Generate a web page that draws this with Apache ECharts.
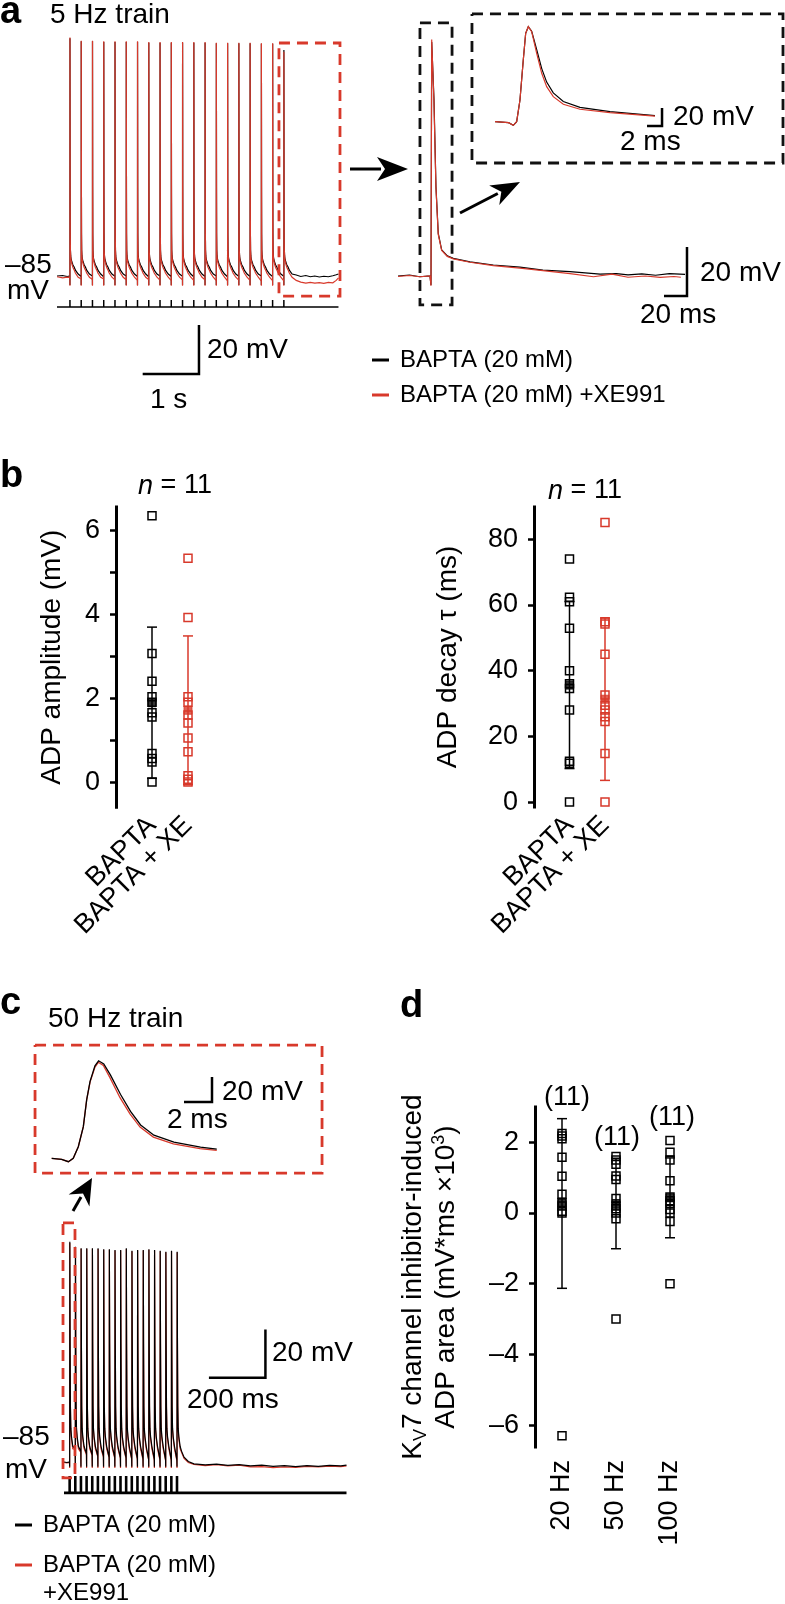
<!DOCTYPE html>
<html><head><meta charset="utf-8">
<script src="https://cdn.jsdelivr.net/npm/echarts@6/dist/echarts.min.js"></script>
<style>html,body{margin:0;padding:0;background:#fff}#c{width:785px;height:1604px}</style>
</head><body><div id="c"></div>
<script>
const FONT = '"Liberation Sans", Arial, Helvetica, sans-serif';
const RED = '#d8392b';
const BLK = '#000';

// ---------- Panel a : 5 Hz train (time in ms, membrane potential in mV) ----------
const spikeTimesA = [230,430,630,830,1030,1230,1430,1630,1830,2030,2230,2430,2630,2830,3030,3230,3430,3630,3830,4030];
const peaksA_black = [12,10.8,10.8,10.5,10.5,10.5,10.5,10.2,10.2,10.2,10.2,10.2,10.2,10,10,10,10,9.8,9.8,7.2];
const peaksA_red   = [12.3,11,11,10.8,10.8,10.8,10.8,10.5,10.5,10.5,10.5,10.5,10.5,10.2,10.2,10.2,10.2,10,10,6.5];
const baseA_black  = [-85,-85.2,-85,-85.3,-85.1,-85,-85.2,-85.3,-85,-85.2,-85.1,-85.3,-85.2,-85,-85.3,-85.1,-85.2,-85,-85.2,-85.1];
const baseA_red    = [-85.6,-86.2,-86.4,-86.2,-86.6,-86.5,-86.8,-86.4,-86.7,-86.9,-86.6,-86.8,-86.5,-86.9,-87,-86.7,-86.8,-87.1,-86.9,-87];
// action potential waveform read from the expanded last spike (ms after stimulus, mV); null = peak
const apDtA        = [0,0.6,2,3.7,5.7,8.7,13.6,18.8,33.3,53.6,76.7,96.7,120.3,146.4,175];
const apVA_black   = [-88.7,null,-13.2,-48.5,-67.6,-74.4,-76.8,-77.8,-79.2,-80.5,-81.4,-82.6,-83.2,-84.2,-84.4];
const apVA_red     = [-89,null,-13,-49,-68,-74.6,-77.2,-78.4,-80,-81.5,-82.6,-83.8,-84.6,-85.5,-86];
const startA_black = [[0,-85],[100,-84.8],[180,-85.2]];
const startA_red   = [[0,-85.3],[100,-85.8],[180,-85.5]];
const tailA_black  = [[4250,-84.6],[4330,-85.2],[4420,-84.8],[4500,-85.3],[4580,-85.0],[4660,-85.4],[4740,-85.1],[4820,-85.3],[4900,-84.9],[4960,-84.5],[5000,-84.2]];
const tailA_red    = [[4250,-86.8],[4330,-87.5],[4420,-87.9],[4500,-87.6],[4580,-87.9],[4660,-87.7],[4740,-88.0],[4820,-87.6],[4900,-87.8],[4960,-86.8],[5000,-85.8]];
// expanded last spike (ms, mV)
const zoomA_black = [[0,-85],[10,-84.6],[19,-85.3],[27.8,-85],[28.7,-88.7],[29.3,10.5],[31.3,-13],[33,-48.5],[35,-67.6],[38,-74.4],[42.9,-76.8],[48.1,-77.8],[62.6,-79.2],[82.9,-80.5],[106,-81.4],[126,-82.6],[149.6,-83.2],[175.7,-84.2],[190,-84.0],[200,-84.5],[212,-84.1],[224,-84.7],[236,-84.0],[249.6,-84.3]];
const zoomA_red   = [[0,-85.2],[10,-84.8],[19,-85.3],[27.8,-85],[28.7,-89],[29.3,11.5],[31.2,-13],[33,-49],[35,-68],[38,-74.6],[42.9,-77],[48.1,-78],[62.6,-79.4],[82.9,-80.8],[106,-81.8],[126,-82.8],[149.6,-84],[170,-85.3],[186,-84.2],[200,-85.5],[215,-85.0],[228,-85.6],[240,-85.2],[246,-85.5]];
// AP waveform inset (ms, mV)
const insetA_black = [[0,-85],[1.8,-86.1],[2.44,-89],[2.89,-85],[3.33,-60.9],[3.77,-16.4],[4.09,13.2],[4.44,20.6],[4.89,15.5],[5.56,-5],[6.23,-26],[6.89,-41],[7.77,-53],[9.11,-62.5],[11.33,-69],[15.33,-73.8],[21.33,-78.2]];
const insetA_red   = [[0,-85],[1.8,-86.1],[2.44,-89],[2.89,-85],[3.33,-60.9],[3.77,-16.4],[4.09,13.2],[4.44,20.6],[4.89,15],[5.56,-9],[6.23,-31.2],[6.89,-46.1],[7.77,-57.2],[9.11,-65.7],[11.33,-71.2],[15.33,-75],[21.33,-78.7]];

// ---------- Panel b ----------
const bCats = [' ', 'BAPTA', 'BAPTA + XE', '  '];
const bAmpTicks = [0,1,2,3,4,5,6];
const bAmpLabels = [0,2,4,6];
const bAmp_BAPTA = [6.34,3.06,2.4,2.03,1.9,1.65,1.55,0.68,0.56,0.48,0.0];
const bAmp_XE    = [5.33,3.92,2.03,1.9,1.6,1.41,1.05,0.72,0.15,0.07,0.0];
const bAmpMean = [1.89, 1.71];
const bAmpErr  = [1.8, 1.77];
const bDecTicks = [0,20,40,60,80];
const bDec_BAPTA = [74,62.3,61,52.9,40,36,34.6,28,12.4,11.8,0];
const bDec_XE    = [85.1,54.9,54.2,45,32.6,29.5,28,26,24.5,14.8,0];
const bDecMean = [35.6, 31.3];
const bDecErr  = [25.4, 24.7];

// ---------- Panel c : 50 Hz train ----------
const spikeTimesC = [20,40,60,80,100,120,140,160,180,200,220,240,260,280,300,320,340,360,380,400];
const peaksC_black = [6.1,4.1,3.4,3.4,3.4,3.4,3.0,3.0,2.7,2.7,3.4,2.4,2.7,2.7,3.0,2.7,2.4,2.0,2.4,2.0];
const peaksC_red   = [5.6,3.8,3.2,3.2,3.2,3.1,2.8,2.8,2.5,2.5,3.1,2.2,2.5,2.5,2.8,2.5,2.2,1.8,2.2,1.8];
const baseC_black  = [-85,-79.5,-80.5,-81.5,-82,-82.5,-82.5,-83,-83,-83.2,-83.2,-83.5,-83.5,-83.5,-83.8,-83.8,-83.8,-84,-84,-84];
const baseC_red    = [-85.2,-79.8,-81,-82,-82.3,-82.8,-83,-83.2,-83.4,-83.5,-83.5,-83.8,-83.8,-84,-84,-84.2,-84.2,-84.3,-84.3,-84.5];
const apDtC        = [0,0.6,1.6,2.8,4.2,6.5,11];
const apVC_black   = [-87,null,-35,-62,-71,-74.5,-78.5];
const apVC_red     = [-87.5,null,-36,-63,-72,-75.5,-79.5];
const startC_black = [[0,-85],[10,-85.2],[17,-84.9]];
const startC_red   = [[0,-85.2],[10,-85.4],[17,-85.1]];
const tailC_black  = [[416,-80.5],[425,-83],[440,-84.8],[460,-85.8],[500,-86.2],[540,-85.9],[580,-86.4],[620,-86.1],[660,-86.6],[700,-86.3],[740,-86.8],[780,-86.5],[820,-86.9],[860,-86.5],[900,-86.8],[940,-86.4],[980,-86.6],[1000,-86.3]];
const tailC_red    = [[416,-81],[425,-83.5],[440,-85.2],[460,-86],[500,-86.5],[540,-86.1],[580,-86.6],[620,-86.3],[660,-87],[700,-86.9],[740,-87.3],[780,-87],[820,-87.2],[860,-86.8],[900,-87],[940,-86.7],[980,-86.9],[1000,-86.6]];
const insetC_black = [[0,-85],[0.71,-85.8],[1.19,-87.7],[1.54,-85],[1.9,-75.7],[2.26,-59.7],[2.5,-38],[2.74,-23.5],[3.09,-11],[3.35,-7],[3.72,-9.5],[4.2,-18.5],[4.92,-34],[5.63,-47.5],[6.35,-58.3],[7.3,-66.5],[8.73,-72],[10.63,-76],[11.79,-77.6]];
const insetC_red   = [[0,-85],[0.71,-85.8],[1.19,-87.7],[1.54,-85],[1.9,-75.7],[2.26,-59.7],[2.5,-38],[2.74,-24],[3.09,-12],[3.33,-8.2],[3.69,-10.8],[4.16,-20.5],[4.88,-36.5],[5.59,-49.5],[6.31,-60],[7.26,-68],[8.69,-73.4],[10.59,-77.2],[11.79,-78.6]];

// ---------- Panel d ----------
const dCats = ['20 Hz', '50 Hz', '100 Hz'];
const dTicks = [2,0,-2,-4,-6];
const d20  = [2.25,2.18,2.1,1.58,1.04,0.53,0.3,0.2,0.05,0.0,-6.3];
const d50  = [1.6,1.5,1.38,1.05,0.95,0.41,0.2,0.12,0.0,-0.16,-3.0];
const d100 = [2.05,1.72,1.5,0.91,0.45,0.35,0.27,0.1,0.0,-0.24,-2.0];
const dMean = [0.27,0.27,0.43];
const dErr  = [2.4,1.28,1.13];
const dN = ['(11)','(11)','(11)'];

// ---------- annotations in data units (scale bars and boxes) ----------
const barA_main  = {t:2522, v:-125, dt:1000, dv:20};
const barA_zoom  = {t:251.3, v:-93.2, dt:20, dv:20};
const barA_inset = {t:22.27, v:-89.8, dt:2, dv:20};
const barC_inset = {t:11.45, v:-40, dt:2, dv:20};
const barC_main  = {t:713, v:-50.2, dt:200, dv:20};
const boxA_main  = [3943,5027,10.1,-93.2];
const boxA_zoom  = [19.1,47,18.3,-96.8];
const boxA_inset = [-3.07,38.4,34.7,-130.9];
const boxC_inset = [-1.19,19.31,5.6,-96.8];
const boxC_main  = [-3.5,38.9,13.9,-91.6];
const stimA = {t0:0, t1:5000, v0:-97.65, v1:-94.8};
const stimC = {t0:0, t1:1000, v0:-97.8, v1:-90.8};

// ---------- builders ----------
function train(start, times, bases, peaks, dts, vals, tail, pre) {
  const out = start.slice();
  for (let i = 0; i < times.length; i++) {
    out.push([times[i] - pre, bases[i]]);
    for (let j = 0; j < dts.length; j++) out.push([times[i] + dts[j], vals[j] === null ? peaks[i] : vals[j]]);
  }
  return out.concat(tail);
}
function stim(times, s) {
  const out = [[s.t0, s.v0]];
  times.forEach(t => { out.push([t, s.v0], [t, s.v1], [t, s.v0]); });
  out.push([s.t1, s.v0]);
  return out;
}
function boxPts(b) { return [[b[0],b[2]],[b[1],b[2]],[b[1],b[3]],[b[0],b[3]],[b[0],b[2]]]; }
function barPts(b) { return [[b.t - b.dt, b.v],[b.t, b.v],[b.t, b.v + b.dv]]; }

function lineS(gi, data, color, width, dash, z) {
  return {type:'line', xAxisIndex:gi, yAxisIndex:gi, data, showSymbol:false, symbol:'none', silent:true,
    clip:false, animation:false, z: z || 2,
    lineStyle:{color, width, type: dash ? [11,7] : 'solid', cap:'butt', join:'miter'}};
}

function errRender(params, api) {
  const x = api.value(0), m = api.value(1), e = api.value(2);
  const lo = api.coord([x, m - e]), hi = api.coord([x, m + e]);
  const cw = 5;
  const st = {stroke: api.visual('color'), lineWidth: 1.5, fill: null};
  return {type:'group', children:[
    {type:'line', shape:{x1:lo[0], y1:lo[1], x2:hi[0], y2:hi[1]}, style:st},
    {type:'line', shape:{x1:lo[0]-cw, y1:lo[1], x2:lo[0]+cw, y2:lo[1]}, style:st},
    {type:'line', shape:{x1:hi[0]-cw, y1:hi[1], x2:hi[0]+cw, y2:hi[1]}, style:st}
  ]};
}
function errS(gi, data, color) {
  return {type:'custom', xAxisIndex:gi, yAxisIndex:gi, renderItem:errRender, data, silent:true,
    itemStyle:{color}, encode:{x:0, y:1}, z:3};
}
function openS(gi, data, color) {
  return {type:'scatter', xAxisIndex:gi, yAxisIndex:gi, data, symbol:'rect', symbolSize:8, silent:true,
    itemStyle:{color:'rgba(0,0,0,0)', borderColor:color, borderWidth:1.5, opacity:1}, z:4};
}
function fillS(gi, data, color) {
  return {type:'scatter', xAxisIndex:gi, yAxisIndex:gi, data, symbol:'rect', symbolSize:8, silent:true,
    itemStyle:{color, borderColor:color, borderWidth:1}, z:5};
}

const dash = s => String(s).replace('-', '\u2013');

// ---------- grids ----------
const grids = [
  {left:57, top:31, width:287.1, height:355.25},          // 0 main a
  {left:398, top:18.75, width:345, height:294},            // 1 expanded spike
  {left:465, top:9.2, width:319.5, height:157.5},          // 2 AP inset a
  {left:116, top:507, width:108, height:300.3},            // 3 b amplitude
  {left:534, top:507, width:106.5, height:300},            // 4 b decay
  {left:23.7, top:1039.55, width:308, height:137.5},       // 5 inset c
  {left:61.175, top:1208.2, width:288.15, height:290.04},  // 6 main c
  {left:535, top:1107, width:162, height:340}              // 7 d
].map(g => Object.assign({containLabel:false, outerBoundsMode:'none'}, g));

const hidX = (gi, min, max) => ({gridIndex:gi, type:'value', min, max, show:false, splitLine:{show:false}});
const hidY = (gi, min, max) => ({gridIndex:gi, type:'value', min, max, show:false, splitLine:{show:false}});
const catX = (gi, data, bgap, rot, margin) => ({gridIndex:gi, type:'category', data, boundaryGap:bgap,
  axisLine:{show:false, onZero:false}, axisTick:{show:false}, splitLine:{show:false},
  axisLabel:{interval:0, rotate:rot, margin, fontSize:27, color:'#000', fontFamily:FONT}});
const valY = (gi, min, max, ticks, labels, name, gap, nameRich) => ({gridIndex:gi, type:'value', min, max,
  axisLine:{show:true, onZero:false, lineStyle:{color:'#000', width:3, cap:'square'}},
  axisTick:{show:true, inside:false, length:6, lineStyle:{color:'#000', width:2.5}, customValues:ticks},
  axisLabel:{show:true, customValues:labels, fontSize:27, color:'#000', margin:16, fontFamily:FONT, formatter:v => dash(v)},
  splitLine:{show:false},
  name, nameLocation:'middle', nameGap:gap, nameRotate:90,
  nameTextStyle:Object.assign({fontSize:28, color:'#000', fontFamily:FONT}, nameRich ? {rich:nameRich} : {})});

const xAxes = [
  hidX(0, 0, 5100), hidX(1, 0, 300), hidX(2, -4, 38.6),
  catX(3, bCats, false, 45, 14), catX(4, bCats, false, 45, 14),
  hidX(5, -2, 20), hidX(6, -10, 1010),
  catX(7, dCats, true, 90, 13)
];
const dRich = {
  n:{fontSize:28, lineHeight:33, fontFamily:FONT, color:'#000'},
  sub:{fontSize:18, lineHeight:16, verticalAlign:'bottom', fontFamily:FONT, color:'#000'},
  sup:{fontSize:18, lineHeight:16, verticalAlign:'top', fontFamily:FONT, color:'#000'}
};
const yAxes = [
  hidY(0, -130, 15), hidY(1, -100, 20), hidY(2, -135, 40),
  valY(3, -0.6, 6.55, bAmpTicks, bAmpLabels, 'ADP amplitude (mV)', 50),
  valY(4, -1.5, 89.8, bDecTicks, bDecTicks, 'ADP decay \u03c4 (ms)', 72),
  hidY(5, -100, 10), hidY(6, -100, 20),
  valY(7, -6.62, 3.0, dTicks, dTicks,
    '{n|K}{sub|V}{n|7 channel inhibitor-induced}\n{n|ADP area (mV*ms \u00d710}{sup|3}{n|)}', 72, dRich)
];

const series = [
  // panel a main
  lineS(0, train(startA_black, spikeTimesA, baseA_black, peaksA_black, apDtA, apVA_black, tailA_black, 1), BLK, 1.2),
  lineS(0, train(startA_red, spikeTimesA, baseA_red, peaksA_red, apDtA, apVA_red, tailA_red, 1), RED, 1.2, false, 3),
  lineS(0, stim(spikeTimesA, stimA), BLK, 1.5),
  lineS(0, boxPts(boxA_main), RED, 2.8, true, 5),
  lineS(0, barPts(barA_main), BLK, 2.5),
  // expanded spike
  lineS(1, zoomA_black, BLK, 1.2),
  lineS(1, zoomA_red, RED, 1.2, false, 3),
  lineS(1, boxPts(boxA_zoom), '#111', 2.8, true, 5),
  lineS(1, barPts(barA_zoom), BLK, 2.5),
  // AP inset a
  lineS(2, insetA_black, BLK, 1.2),
  lineS(2, insetA_red, RED, 1.2, false, 3),
  lineS(2, boxPts(boxA_inset), '#111', 2.8, true, 5),
  lineS(2, barPts(barA_inset), BLK, 2.5),
  // panel b amplitude
  errS(3, [[1, bAmpMean[0], bAmpErr[0]]], BLK),
  errS(3, [[2, bAmpMean[1], bAmpErr[1]]], RED),
  openS(3, bAmp_BAPTA.map(v => [1, v]), BLK),
  openS(3, bAmp_XE.map(v => [2, v]), RED),
  fillS(3, [[1, bAmpMean[0]]], BLK),
  fillS(3, [[2, bAmpMean[1]]], RED),
  // panel b decay
  errS(4, [[1, bDecMean[0], bDecErr[0]]], BLK),
  errS(4, [[2, bDecMean[1], bDecErr[1]]], RED),
  openS(4, bDec_BAPTA.map(v => [1, v]), BLK),
  openS(4, bDec_XE.map(v => [2, v]), RED),
  fillS(4, [[1, bDecMean[0]]], BLK),
  fillS(4, [[2, bDecMean[1]]], RED),
  // inset c
  lineS(5, insetC_red, RED, 1.3),
  lineS(5, insetC_black, BLK, 1.3, false, 3),
  lineS(5, boxPts(boxC_inset), RED, 2.8, true, 5),
  lineS(5, barPts(barC_inset), BLK, 2.5),
  // main c
  lineS(6, train(startC_red, spikeTimesC, baseC_red, peaksC_red, apDtC, apVC_red, tailC_red, 0.5), RED, 1.2),
  lineS(6, train(startC_black, spikeTimesC, baseC_black, peaksC_black, apDtC, apVC_black, tailC_black, 0.5), BLK, 1.2, false, 3),
  lineS(6, stim(spikeTimesC, stimC), BLK, 2.6),
  lineS(6, boxPts(boxC_main), RED, 2.8, true, 5),
  lineS(6, barPts(barC_main), BLK, 2.5),
  // panel d
  errS(7, dMean.map((m, i) => [i, m, dErr[i]]), BLK),
  openS(7, d20.map(v => [0, v]).concat(d50.map(v => [1, v]), d100.map(v => [2, v])), BLK),
  fillS(7, dMean.map((m, i) => [i, m]), BLK)
];

// ---------- graphic decorations ----------
function txt(text, x, y, size, opts) {
  const o = opts || {};
  return {type:'text', x, y, silent:true, z:10, style:Object.assign({
    text, fontSize:size, fontFamily:FONT, fill:'#000', fontWeight:o.bold ? 'bold' : 'normal',
    align:o.align || 'left', textAlign:o.align || 'left', verticalAlign:'middle', textVerticalAlign:'middle'
  }, o.rich ? {rich:o.rich} : {})};
}
function arrow(x1, y1, x2, y2, L, W) {
  const a = Math.atan2(y2 - y1, x2 - x1), c = Math.cos(a), s = Math.sin(a);
  const p = (d, w) => [x2 - d * c - w * s, y2 - d * s + w * c];
  const N = 8, sh = p(L - 4, 0);
  return [
    {type:'line', silent:true, z:10, shape:{x1, y1, x2:sh[0], y2:sh[1]}, style:{stroke:'#000', lineWidth:3}},
    {type:'polygon', silent:true, z:10, shape:{points:[[x2, y2], p(L, W), p(L - N, 0), p(L, -W)]}, style:{fill:'#000'}}
  ];
}
function legendItem(x, y, color, label, size) {
  return [
    {type:'line', silent:true, z:10, shape:{x1:x, y1:y, x2:x + 17, y2:y}, style:{stroke:color, lineWidth:3}},
    txt(label, x + 28, y, size)
  ];
}
const it = {i:{fontStyle:'italic', fontSize:27, fontFamily:FONT}};
const graphics = [
  txt('a', 0, 13, 38, {bold:true}),
  txt('5 Hz train', 50, 15, 28),
  txt('\u201385', 5, 265, 28),
  txt('mV', 7, 291, 28),
  txt('20 mV', 207, 350, 28),
  txt('1 s', 150, 400, 28),
  txt('20 mV', 700, 273, 28),
  txt('20 ms', 640, 315, 28),
  txt('20 mV', 673, 117, 28),
  txt('2 ms', 620, 142, 28),
  ...arrow(350, 169, 408, 169, 31, 12),
  ...arrow(460, 213, 520, 182, 29, 11),
  ...legendItem(372, 360, BLK, 'BAPTA (20 mM)', 24),
  ...legendItem(372, 395, RED, 'BAPTA (20 mM) +XE991', 24),
  txt('b', 0, 477, 38, {bold:true}),
  txt('{i|n} = 11', 175, 486, 27, {align:'center', rich:it}),
  txt('{i|n} = 11', 585, 491, 27, {align:'center', rich:it}),
  txt('c', 0, 1004, 38, {bold:true}),
  txt('50 Hz train', 48, 1019, 28),
  txt('20 mV', 222, 1092, 28),
  txt('2 ms', 167, 1120, 28),
  txt('20 mV', 272, 1353, 28),
  txt('200 ms', 187, 1400, 28),
  txt('\u201385', 3, 1437, 28),
  txt('mV', 5, 1470, 28),
  ...arrow(73, 1211, 92, 1178, 26, 12),
  ...legendItem(15, 1525, BLK, 'BAPTA (20 mM)', 24),
  ...legendItem(15, 1565, RED, 'BAPTA (20 mM)', 24),
  txt('+XE991', 43, 1593, 24),
  txt('d', 400, 1007, 38, {bold:true}),
  txt(dN[0], 567, 1098, 27, {align:'center'}),
  txt(dN[1], 617, 1138, 27, {align:'center'}),
  txt(dN[2], 672, 1118, 27, {align:'center'})
];

const chart = echarts.init(document.getElementById('c'), null, {renderer:'canvas', width:785, height:1604});
chart.setOption({
  animation:false,
  backgroundColor:'#fff',
  textStyle:{fontFamily:FONT},
  grid:grids, xAxis:xAxes, yAxis:yAxes, series,
  graphic:{elements:graphics}
});
</script></body></html>
